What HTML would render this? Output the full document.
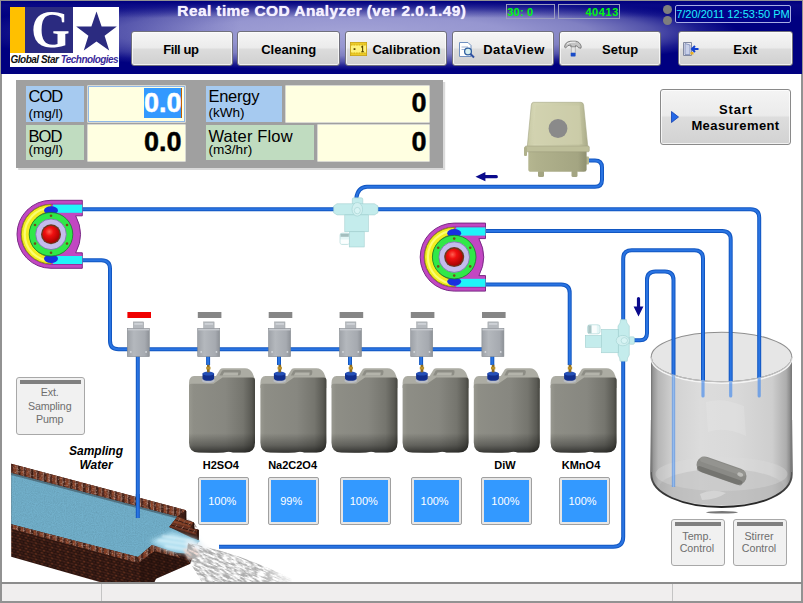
<!DOCTYPE html>
<html><head><meta charset="utf-8">
<style>
html,body{margin:0;padding:0;}
body{width:803px;height:603px;overflow:hidden;background:#fff;position:relative;font-family:"Liberation Sans",sans-serif;}
.abs{position:absolute;}
#frame{left:0;top:0;width:803px;height:603px;background:#929292;}
#client{left:2px;top:1px;width:799px;height:600px;background:#fff;overflow:hidden;}
#hdr{left:1px;top:1px;width:801px;height:73px;background:linear-gradient(to bottom,#00007e 0px,rgba(10,10,134,0.85) 4px,rgba(20,20,140,0) 17px),linear-gradient(to right,rgba(0,0,128,0.5) 0px,rgba(0,0,128,0.32) 125px,rgba(0,0,128,0) 240px),radial-gradient(ellipse 385px 38px at 352px 31px,#a2a2d6 0%,#9696d0 40%,#8080c2 62%,#5252aa 78%,#1c1c90 90%,#000080 100%);}
.hb{position:absolute;top:31.2px;height:35.2px;box-sizing:border-box;border:1px solid #70707c;border-radius:3px;background:linear-gradient(#f6f6f6 0%,#ebebeb 48%,#dcdcdc 52%,#d0d0d0 100%);font-weight:bold;font-size:13px;color:#000;text-align:center;line-height:35.4px;box-shadow:inset 0 0 0 1px rgba(255,255,255,.7);}
.lbl{position:absolute;box-sizing:border-box;color:#000;white-space:nowrap;}
.lbl span{position:absolute;left:2.4px;line-height:16px;}
.lbl .a{font-size:16.5px;}
.lbl .b{font-size:13.6px;}
.val{-webkit-text-stroke:0.45px currentColor;}
.inp{position:absolute;background:#ffffe1;box-shadow:0 0 0 0.6px #fffff4;font-weight:bold;font-size:27px;text-align:right;box-sizing:border-box;color:#000;}
.gbtn{position:absolute;box-sizing:border-box;border:1px solid #a8a8a8;border-radius:3px;background:#f1f1f1;color:#6e6e6e;font-size:10.7px;text-align:center;}
.gbtn i{position:absolute;left:3px;right:3px;top:2px;height:4px;background:#808080;}
.lvl{position:absolute;top:477px;width:51px;height:48px;box-sizing:border-box;border:1px solid #a0a0a0;border-radius:2px;background:#e6e6e6;}
.lvl b{position:absolute;left:2px;top:2px;right:2px;bottom:2px;background:#3399ff;color:#fff;font-weight:normal;font-size:11px;text-align:center;line-height:43px;text-indent:-3px;}
.chem{position:absolute;top:458.7px;font-weight:bold;font-size:11px;color:#000;text-align:center;width:80px;}
</style></head><body>
<div id="frame" class="abs"></div>
<div id="client" class="abs"></div>
<svg class="abs" style="left:0;top:0;" width="803" height="603" viewBox="0 0 803 603">
<defs>
<linearGradient id="jugF" x1="0" y1="0" x2="1" y2="0"><stop offset="0" stop-color="#98988f"/><stop offset="0.07" stop-color="#8e8e86"/><stop offset="0.55" stop-color="#878780"/><stop offset="0.82" stop-color="#75756e"/><stop offset="0.95" stop-color="#5a5a54"/><stop offset="1" stop-color="#45453f"/></linearGradient>
<linearGradient id="jugB" x1="0" y1="0" x2="0" y2="1"><stop offset="0" stop-color="#000" stop-opacity="0"/><stop offset="0.74" stop-color="#000" stop-opacity="0"/><stop offset="0.9" stop-color="#000" stop-opacity="0.3"/><stop offset="1" stop-color="#000" stop-opacity="0.62"/></linearGradient>
<linearGradient id="vlv" x1="0" y1="0" x2="1" y2="0"><stop offset="0" stop-color="#9ea2a8"/><stop offset="0.3" stop-color="#b4b8bd"/><stop offset="0.8" stop-color="#a6aab0"/><stop offset="1" stop-color="#8d9197"/></linearGradient>
<linearGradient id="airT" x1="0" y1="0" x2="1" y2="0"><stop offset="0" stop-color="#c8c9a4"/><stop offset="0.12" stop-color="#d4d5b3"/><stop offset="0.85" stop-color="#c6c7a3"/><stop offset="1" stop-color="#a9aa88"/></linearGradient>
<linearGradient id="airB" x1="0" y1="0" x2="1" y2="0"><stop offset="0" stop-color="#b5b690"/><stop offset="0.15" stop-color="#b0b18c"/><stop offset="0.85" stop-color="#a4a582"/><stop offset="1" stop-color="#8f9070"/></linearGradient>
<radialGradient id="redball" cx="0.4" cy="0.35" r="0.7"><stop offset="0" stop-color="#ff6050"/><stop offset="0.35" stop-color="#f01010"/><stop offset="1" stop-color="#a00000"/></radialGradient>
<linearGradient id="bk" x1="0" y1="0" x2="1" y2="0"><stop offset="0" stop-color="#8a8a8a"/><stop offset="0.05" stop-color="#b6b6b6"/><stop offset="0.16" stop-color="#d2d2d2"/><stop offset="0.35" stop-color="#dcdcdc"/><stop offset="0.6" stop-color="#d9d9d9"/><stop offset="0.86" stop-color="#cecece"/><stop offset="0.96" stop-color="#adadad"/><stop offset="1" stop-color="#7c7c7c"/></linearGradient>

<pattern id="brick" width="8" height="5.4" patternUnits="userSpaceOnUse" patternTransform="matrix(1,0.27,0,1,0,0)">
 <rect width="8" height="5.4" fill="#1e0f0b"/>
 <rect x="0.4" y="0.6" width="3.2" height="1.8" fill="#56281b"/><rect x="4.4" y="0.6" width="3.1" height="1.8" fill="#3f1d17"/>
 <rect x="-1.6" y="3.3" width="3.2" height="1.8" fill="#472119"/><rect x="2.4" y="3.3" width="3.2" height="1.8" fill="#5e2c1d"/><rect x="6.4" y="3.3" width="3.2" height="1.8" fill="#472119"/>
</pattern>
<pattern id="brickTop" width="13" height="12" patternUnits="userSpaceOnUse" patternTransform="matrix(1,0.27,0,1,0,0)">
 <rect width="13" height="12" fill="#6a2c1a"/>
 <rect x="0.5" y="0" width="3" height="12" fill="#8c4226"/><rect x="3.9" y="0" width="0.9" height="12" fill="#c09888"/><rect x="5" y="0" width="2.4" height="12" fill="#3a1a11"/><rect x="7.8" y="0" width="2.2" height="12" fill="#94482a"/><rect x="10.4" y="0" width="0.7" height="12" fill="#b08878"/><rect x="11.3" y="0" width="1.5" height="12" fill="#42201a"/>
</pattern>
<filter id="noise" x="0" y="0" width="100%" height="100%"><feTurbulence type="fractalNoise" baseFrequency="0.9" numOctaves="2" seed="3" result="n"/><feColorMatrix type="matrix" values="0 0 0 0 0  0 0 0 0 0  0 0 0 0 0  0.5 0.5 0 0 -0.35"/><feComposite in2="SourceGraphic" operator="in"/></filter>
<filter id="foam" x="-5%" y="-5%" width="110%" height="110%"><feTurbulence type="fractalNoise" baseFrequency="0.13 0.55" numOctaves="3" seed="8" result="n"/><feColorMatrix in="n" type="matrix" values="0 0 0 0 0.4  0 0 0 0 0.4  0 0 0 0 0.4  3 3 0 0 -2.5" result="c"/><feComposite in="c" in2="SourceGraphic" operator="in"/></filter>
<linearGradient id="foamFade" x1="0" y1="0" x2="1" y2="0"><stop offset="0" stop-color="#fff" stop-opacity="1"/><stop offset="0.7" stop-color="#fff" stop-opacity="0.95"/><stop offset="1" stop-color="#fff" stop-opacity="0.15"/></linearGradient>
<mask id="foamMask"><path d="M188,543 Q240,553 292,579 V584 H203 L186,556 Z" fill="url(#foamFade)"/></mask>
<filter id="mott" x="0" y="0" width="100%" height="100%"><feTurbulence type="fractalNoise" baseFrequency="0.45 0.5" numOctaves="2" seed="11"/><feColorMatrix type="matrix" values="0 0 0 0 0.08  0 0 0 0 0.03  0 0 0 0 0.02  1.6 1.6 0 0 -1.25"/><feComposite in2="SourceGraphic" operator="in"/></filter>
<filter id="mottL" x="0" y="0" width="100%" height="100%"><feTurbulence type="fractalNoise" baseFrequency="0.6 0.6" numOctaves="1" seed="5"/><feColorMatrix type="matrix" values="0 0 0 0 0.95  0 0 0 0 0.8  0 0 0 0 0.75  2.5 2.5 0 0 -2.45"/><feComposite in2="SourceGraphic" operator="in"/></filter>
<filter id="blur2"><feGaussianBlur stdDeviation="2"/></filter>
<filter id="blur1"><feGaussianBlur stdDeviation="1"/></filter>
<linearGradient id="bkEdge" gradientUnits="userSpaceOnUse" x1="0" y1="420" x2="0" y2="507"><stop offset="0" stop-color="#7a7a7a" stop-opacity="0.2"/><stop offset="0.55" stop-color="#5a5a5a" stop-opacity="0.9"/><stop offset="0.8" stop-color="#3a3a3a"/><stop offset="1" stop-color="#242424"/></linearGradient>
<symbol id="pump" overflow="visible">
  <path d="M65.3,0.3 H34 A34,34 0 0 0 34,68.3 H65.3 V52.8 H58.7 Q68.4,34.3 58.7,15.8 H65.3 Z" fill="#c247c2" stroke="#7a2a86" stroke-width="1"/>
  <path d="M65,4.2 H34 A30,30 0 0 0 34,64.4 H65" fill="none" stroke="#8a2a96" stroke-width="0.9"/>
  <path d="M34,4.5 A29.7,29.7 0 0 0 34,63.9 L34,57 A22.8,22.8 0 0 1 34,11.5 Z" fill="#f2ee20" stroke="#8a8a10" stroke-width="0.9"/>
  <path d="M34,8 A26.3,26.3 0 0 0 34,60.6" fill="none" stroke="#fcfc70" stroke-width="2.2"/>
  <rect x="36" y="4.6" width="29.3" height="8.2" fill="#20f4f8"/>
  <rect x="36" y="56" width="29.3" height="8" fill="#20f4f8"/>
  <ellipse cx="34" cy="10.5" rx="7" ry="4.2" fill="#1830e0"/>
  <ellipse cx="34" cy="58.8" rx="7" ry="4.2" fill="#1830e0"/>
  <circle cx="34" cy="34.3" r="21.8" fill="#30e848" stroke="#187828" stroke-width="0.8"/>
  <circle cx="34" cy="34.3" r="15.3" fill="#c4bcec" stroke="#7870a8" stroke-width="0.8"/>
  <circle cx="34" cy="34.3" r="10" fill="#6a3a20"/>
  <circle cx="34" cy="34.3" r="8.6" fill="url(#redball)"/>
  <g fill="#705018"><circle cx="34" cy="15.8" r="1.3"/><circle cx="34" cy="52.8" r="1.3"/><circle cx="18" cy="25" r="1.3"/><circle cx="50" cy="25" r="1.3"/><circle cx="18" cy="43.6" r="1.3"/><circle cx="50" cy="43.6" r="1.3"/></g>
</symbol>
<symbol id="valve" overflow="visible">
  <rect x="6" y="-6.5" width="10.4" height="7" fill="#b6babf" stroke="#9a9ea2" stroke-width="0.5"/>
  <rect x="7" y="-5.2" width="8.4" height="1.5" fill="#d4d8dc"/>
  <rect x="0" y="0" width="22" height="28.2" fill="url(#vlv)" stroke="#858a90" stroke-width="0.6"/>
  <rect x="0.5" y="0.4" width="21.3" height="1.6" fill="#c5c9ce"/>
  <circle cx="3.5" cy="23.5" r="0.9" fill="#d8dce0"/><circle cx="18.8" cy="23.5" r="0.9" fill="#d8dce0"/>
</symbol>
<symbol id="jug" overflow="visible">
  <!-- top face -->
  <path d="M0,15 Q0,8.3 5,8 L13,8 L27,8 L31,1.5 Q32,0.3 34,0.3 H56 Q61,0.5 63.5,5 L66,11.5 V20 H0 Z" fill="#acaca3"/>
  <!-- handle slot -->
  <path d="M30.5,7.5 L33,2.8 Q33.6,2 35,2 H50.5 Q52.3,2.2 52,4 L51.5,6.5 Q51,7.5 49.5,7.5 Z" fill="#8d8d85"/>
  <path d="M33.5,7.5 L35,4.6 H49.3 L48.8,7.5 Z" fill="#b4b4ab"/>
  <!-- front face -->
  <path d="M0,17.8 Q0,15.8 2,15.8 H24.5 L33.5,9.6 H63.5 Q66,9.8 66,12.5 V74.5 Q66,84.6 56,84.6 H44 Q40,83.2 36,84.3 Q33,84.9 10,84.6 Q0,84.6 0,74.5 Z" fill="url(#jugF)"/>
  <path d="M0,17.8 Q0,15.8 2,15.8 H24.5 L33.5,9.6 H63.5 Q66,9.8 66,12.5 V74.5 Q66,84.6 56,84.6 H44 Q40,83.2 36,84.3 Q33,84.9 10,84.6 Q0,84.6 0,74.5 Z" fill="url(#jugB)"/>
  <!-- neck / cap -->
  <ellipse cx="19.3" cy="12.6" rx="6.4" ry="2.3" fill="#b9bdc6"/>
  <path d="M13.5,5.6 V10.6 A5.8,2.2 0 0 0 25.1,10.6 V5.6 Z" fill="#122f8c"/>
  <ellipse cx="19.3" cy="5.6" rx="5.8" ry="2" fill="#2450b8"/>
  <rect x="18" y="-3.2" width="2.7" height="7.5" fill="#8a6a20"/>
  <rect x="17.2" y="-1.2" width="4.3" height="2.6" fill="#b8902c"/>
</symbol>
</defs>
<g>
<ellipse cx="722" cy="512.3" rx="16" ry="1.3" fill="#555" opacity="0.8"/>
<path d="M651.2,357 V474 C651.2,494 683,507 721.5,507 C760,507 791.8,494 791.8,474 V357 Z" fill="url(#bk)"/>
<ellipse cx="721.5" cy="487" rx="62" ry="18" fill="#a9a9a9" opacity="0.5"/>
<ellipse cx="721.5" cy="474" rx="66" ry="17" fill="#dcdcdc" opacity="0.35"/>
<path d="M651.2,420 V474 C651.2,494 683,507 721.5,507 C760,507 791.8,494 791.8,474 V420" fill="none" stroke="url(#bkEdge)" stroke-width="1.9"/>
<path d="M651.6,357 V472 M791.4,357 V472" stroke="#7a7a7a" stroke-width="1.2" fill="none"/>
<ellipse cx="721.5" cy="357" rx="70.3" ry="24.8" fill="#e6e6e6" stroke="#8e8e8e" stroke-width="1.1"/>
<path d="M651.2,357 A70.3,24.8 0 0 0 791.8,357" fill="none" stroke="#f4f4f4" stroke-width="1.6" transform="translate(0,1.3)"/>
<path d="M651.2,357 A70.3,24.8 0 0 0 791.8,357" fill="none" stroke="#a2a2a2" stroke-width="1"/>
<path d="M706,402 Q722,397 744,406 L746,436 Q724,426 708,432 Z" fill="#fff" opacity="0.13"/>
<path d="M700,494 Q712,488 726,493 Q716,500 702,500 Z" fill="#fff" opacity="0.3"/>
<g transform="translate(721.5,470.6) rotate(19.5)"><rect x="-26" y="-8.2" width="52" height="16.4" rx="8.2" fill="#8a8a86"/><rect x="-24" y="-7.2" width="48" height="5.5" rx="2.7" fill="#999994" opacity="0.7"/><ellipse cx="19" cy="-2.5" rx="3" ry="2" fill="#c8c8c4" opacity="0.8"/><rect x="-24" y="3" width="48" height="5" rx="2.5" fill="#5e5e5a" opacity="0.5"/></g>
</g>

<!-- PIPES -->
<g fill="none" stroke-linecap="butt">
<path d="M82,209.3 H750.7 Q759.2,209.3 759.2,217.8 V378 M587,160.6 H595.0 Q602,160.6 602,167.6 V179.8 Q602,186.8 595.0,186.8 H367 Q357.8,187.3 356.3,198 M82,260.3 H101.5 Q110,260.3 110,268.8 V340.8 Q110,349.3 118.5,349.3 H483 M137.8,355 V518 M485,231 H722.2 Q730.7,231 730.7,239.5 V381.8 M485,284.4 H561.2 Q569.7,284.4 569.7,292.9 V365 M219,546.8 H613.2 Q623.2,546.8 623.2,536.8 V258.7 Q623.2,250.2 631.7,250.2 H694.5 Q703,250.2 703,258.7 V381 M633,340.3 H640.0 Q647,340.3 647,333.3 V280.1 Q647,271.6 655.5,271.6 H665.0 Q673.5,271.6 673.5,280.1 V375.3 M208.1,355 V365 M279.0,355 V365 M350.0,355 V365 M421.1,355 V365 M492.3,355 V365" stroke="#1257c2" stroke-width="4"/>
<path d="M82,209.3 H750.7 Q759.2,209.3 759.2,217.8 V378 M587,160.6 H595.0 Q602,160.6 602,167.6 V179.8 Q602,186.8 595.0,186.8 H367 Q357.8,187.3 356.3,198 M82,260.3 H101.5 Q110,260.3 110,268.8 V340.8 Q110,349.3 118.5,349.3 H483 M137.8,355 V518 M485,231 H722.2 Q730.7,231 730.7,239.5 V381.8 M485,284.4 H561.2 Q569.7,284.4 569.7,292.9 V365 M219,546.8 H613.2 Q623.2,546.8 623.2,536.8 V258.7 Q623.2,250.2 631.7,250.2 H694.5 Q703,250.2 703,258.7 V381 M633,340.3 H640.0 Q647,340.3 647,333.3 V280.1 Q647,271.6 655.5,271.6 H665.0 Q673.5,271.6 673.5,280.1 V375.3 M208.1,355 V365 M279.0,355 V365 M350.0,355 V365 M421.1,355 V365 M492.3,355 V365" stroke="#2a74e2" stroke-width="2"/>
</g>
<g fill="none" stroke-linecap="round" opacity="0.62">
<path d="M673.5,375.3 V487" stroke="#4a8ae6" stroke-width="3.4" stroke-linecap="butt"/>
<path d="M703,381 V396 M730.7,381.8 V396 M759.2,378 V396" stroke="#3c86ee" stroke-width="3.2"/>
</g>
<path d="M673.5,375.3 V487" stroke="#9cc4f4" stroke-width="1.3" opacity="0.7"/>
<path d="M651.2,357 A70.3,24.8 0 0 0 791.8,357" fill="none" stroke="#d8d8d8" stroke-width="1.2" opacity="0.55"/>

<use href="#pump" x="17" y="200"/>
<use href="#pump" x="420.2" y="222.8"/>
<rect x="127.4" y="312" width="23.6" height="6" fill="#f00000"/>
<use href="#valve" x="127.3" y="328.4"/>
<rect x="197.8" y="312" width="23.6" height="6" fill="#868686"/>
<use href="#valve" x="197.7" y="328.4"/>
<rect x="268.7" y="312" width="23.6" height="6" fill="#868686"/>
<use href="#valve" x="268.6" y="328.4"/>
<rect x="339.6" y="312" width="23.6" height="6" fill="#868686"/>
<use href="#valve" x="339.5" y="328.4"/>
<rect x="410.8" y="312" width="23.6" height="6" fill="#868686"/>
<use href="#valve" x="410.7" y="328.4"/>
<rect x="482.0" y="312" width="23.6" height="6" fill="#868686"/>
<use href="#valve" x="481.9" y="328.4"/>
<use href="#jug" x="189.0" y="368"/>
<use href="#jug" x="260.4" y="368"/>
<use href="#jug" x="331.5" y="368"/>
<use href="#jug" x="402.6" y="368"/>
<use href="#jug" x="473.8" y="368"/>
<use href="#jug" x="550.6" y="368"/>
<g>
<rect x="538" y="170.5" width="6" height="6.5" rx="1.5" fill="#a4a582"/><rect x="571.5" y="170.5" width="6" height="6.5" rx="1.5" fill="#a4a582"/>
<rect x="585" y="156.5" width="4" height="8" rx="1" fill="#b5b690"/>
<path d="M528.3,151 H586.6 V169.5 Q586.6,171.8 584,171.8 H531 Q528.3,171.8 528.3,169.5 Z" fill="url(#airB)"/>
<path d="M533.5,102.3 H581 Q583.3,102.5 583.6,105 L587.8,146.5 H527.3 L531.3,105 Q531.5,102.5 533.5,102.3 Z" fill="url(#airT)" stroke="#a5a684" stroke-width="0.6"/>
<path d="M536,105.5 H579.5 L582.5,144 H532.5 Z" fill="#cfd0ad" opacity="0.55"/>
<rect x="525" y="146" width="64.3" height="5.8" rx="1.2" fill="#bebf9a" stroke="#9c9d7c" stroke-width="0.5"/>
<rect x="524" y="147" width="3" height="9" rx="1" fill="#b0b18c"/>
<circle cx="558" cy="128.5" r="9.4" fill="#8a8a8a"/>
</g>
<g fill="#c4ecec" stroke="#9acaca" stroke-width="0.5">
<rect x="352.3" y="197.8" width="10.5" height="7" rx="1.5"/>
<path d="M337,203.7 H374.5 L378,206 V212.7 L374.5,214.9 H337 L333.6,212.7 V206 Z"/>
<rect x="344.8" y="214.9" width="23.6" height="16.9"/>
<rect x="349.2" y="231.8" width="15" height="15.2"/>
<rect x="340" y="233.2" width="9.4" height="11.2" rx="2" fill="#e4f6f6"/>
<ellipse cx="357.3" cy="209.3" rx="5.3" ry="6.8" fill="#d2f0f0"/>
<ellipse cx="357.3" cy="210.6" rx="3" ry="3.2" fill="#d8f4f4"/>
</g>
<rect x="340.6" y="239.5" width="8.2" height="4.3" fill="#fff" opacity="0.85"/>
<rect x="340.6" y="233.8" width="8.2" height="3" fill="#7a9a9a" opacity="0.6"/>
<g fill="#c4ecec" stroke="#9acaca" stroke-width="0.5">
<path d="M620.6,319.6 H626.3 L627,323 L629.3,326 V355 L627.6,358 L627.2,361.2 H620 L619.6,358 L618,355 V326 L620,323 Z"/>
<rect x="601.6" y="329.4" width="16.6" height="23.4"/>
<rect x="585.3" y="335.4" width="16.4" height="11.9"/>
<rect x="587.5" y="324.8" width="12.6" height="9" rx="2.2" fill="#e4f6f6"/>
<rect x="629.2" y="336.8" width="5.2" height="7.5" rx="1.2"/>
<ellipse cx="622.8" cy="340.6" rx="6.6" ry="5.2" fill="#d2f0f0"/>
<ellipse cx="624.3" cy="340.6" rx="3.2" ry="3" fill="#d8f4f4"/>
</g>
<rect x="592" y="325.4" width="4.8" height="7.8" fill="#fff" opacity="0.8"/>
<rect x="588.2" y="325.4" width="3.2" height="7.8" fill="#7a9a9a" opacity="0.55"/>
<path d="M496.3,175.1 H485.4 V172 L475.5,176.7 L485.4,181.3 V178.3 H496.3 Q497.9,178.3 497.9,176.7 Q497.9,175.1 496.3,175.1 Z" fill="#0a0a8c"/>
<path d="M636.9,298.6 V306.4 H633.6 L638.5,316.4 L643.4,306.4 H640.1 V298.6 Q640.1,297 638.5,297 Q636.9,297 636.9,298.6 Z" fill="#0a0a8c"/>

<g>
<polygon points="11.2,463.8 186,510.2 186,520 194,522.6 194,528.6 198.5,529.7 198.5,541 196,550 190.3,563.8 156,578.7 154.5,582 99.7,582 11.2,556.7" fill="url(#brick)"/>
<polygon points="139.4,562.3 154.4,551 180,557.8 190.3,563.8 156,578.7 154.5,582 140,582" fill="#1a0c08" opacity="0.28"/>
<polygon points="11.2,472.7 177.5,516.5 169.3,527 192,536 200,541 186,553.5 175.3,552.5 152,545 138,557 11.2,524.3" fill="#72b0cb"/>
<polygon points="11.2,472.7 177.5,516.5 169.3,527 192,536 200,541 186,553.5 175.3,552.5 152,545 138,557 11.2,524.3" fill="#3a6e8c" filter="url(#noise)" opacity="0.22"/>
<polygon points="11.2,463.8 186,510.2 177.5,516.5 11.2,472.7" fill="url(#brickTop)"/>
<polygon points="177.5,516.5 186,510.2 186,519.7 194,522.6 194,528.6 198.5,529.7 198.5,540 192,538 169.3,527" fill="#3a1a12"/>
<polygon points="172.5,522.8 177.5,516.5 185.8,519.9 193.6,522.8 190,527.4" fill="#8c4428"/>
<polygon points="169.3,527 172.5,522.8 190,527.4 193.8,528.8 198.2,530 195.5,534.6" fill="#743420"/>
<path d="M175,519.8 L191.5,525.2 M171,525 L196.6,532.2" stroke="#2a120c" stroke-width="0.9"/>
<path d="M180,518 L178.2,521 M185.5,520.3 L183.6,523 M190.2,522.4 L188.2,525 M177,524.6 L175.4,527 M183.4,526.4 L181.6,529 M189.6,528 L188,530.8 M195,529.8 L193.2,532.6" stroke="#c8a090" stroke-width="0.7" opacity="0.8"/>
<polygon points="11.2,524.3 138,557 136.3,562.6 11.2,528.8" fill="url(#brickTop)"/>
<polygon points="138,557 152,545 154.4,551 139.4,562.3" fill="url(#brickTop)"/>
<polygon points="152,545 175.3,552.5 180,557.8 154.4,551" fill="url(#brickTop)"/>
<g>
<polygon points="11.2,463.8 186,510.2 177.5,516.5 11.2,472.7" fill="#000" filter="url(#mott)" opacity="0.6"/>
<polygon points="11.2,524.3 138,557 152,545 175.3,552.5 180,557.8 154.4,551 139.4,562.3 136.3,562.6 11.2,528.8" fill="#000" filter="url(#mott)" opacity="0.6"/>
<polygon points="177.5,516.5 186,510.2 186,518 194,522.6 198.5,529.7 198.5,538 169.3,527" fill="#000" filter="url(#mott)" opacity="0.6"/>
<polygon points="11.2,463.8 186,510.2 177.5,516.5 11.2,472.7" fill="#fff" filter="url(#mottL)" opacity="0.32"/>
<polygon points="11.2,524.3 138,557 152,545 175.3,552.5 180,557.8 154.4,551 139.4,562.3 136.3,562.6 11.2,528.8" fill="#fff" filter="url(#mottL)" opacity="0.32"/>
</g>
<path d="M185.6,511 V520 M193.6,523 V529 M198,530 V540" stroke="#2a120c" stroke-width="1.6"/>
<polygon points="11.2,472.7 177.5,516.5 176,518.3 11.2,475" fill="#1a0c08" opacity="0.35"/>
<path d="M137.8,494 V518" stroke="#1257c2" stroke-width="4"/><path d="M137.8,494 V518" stroke="#2a74e2" stroke-width="2"/>
<!-- outflow -->
<g filter="url(#blur2)"><polygon points="150,541 172,532 196,539 203,546 190,554 168,551" fill="#b4e2f2" opacity="0.95"/><polygon points="186,540 204,545 210,550 190,556" fill="#f2f4f8" opacity="0.95"/></g>
<g filter="url(#blur1)"><path d="M158,540 L192,545 M162,536 L194,541 M165,546 L190,550" stroke="#e8f8fc" stroke-width="1.4" opacity="0.8"/><polygon points="183,549 196,548 200,556 188,560" fill="#f0d8d0" opacity="0.8"/></g>
<path d="M200,546.8 H221" stroke="#8fb8f0" stroke-width="3.4" opacity="0.8" filter="url(#blur1)"/>
<g mask="url(#foamMask)"><g transform="rotate(24 188 550)"><rect x="170" y="500" width="140" height="90" fill="#808080" filter="url(#foam)"/></g></g>
</g>

</svg>
<div id="hdr" class="abs"></div>

<!-- logo -->
<div class="abs" style="left:10px;top:7px;width:109px;height:60px;background:#fff;"></div>
<div class="abs" style="left:10px;top:7px;width:15px;height:46px;background:#ffc000;"></div>
<div class="abs" style="left:25px;top:7px;width:48px;height:45.5px;background:#2b2b80;"></div>
<div id="logoG" class="abs" style="left:25px;top:7px;width:48px;height:46px;font-family:'Liberation Serif',serif;font-weight:bold;font-size:52.5px;line-height:44.5px;color:#fff;text-align:center;text-indent:3px;transform:scaleX(0.95);transform-origin:26px 0;">G</div>
<svg class="abs" style="left:73px;top:7px;" width="46" height="46" viewBox="0 0 46 46"><polygon id="star" fill="#2b2b80" points="23.5,4.5 28.6,19.4 43.8,19.4 31.6,28.7 36.2,43.6 23.5,34.6 10.8,43.6 15.4,28.7 3.2,19.4 18.4,19.4"/></svg>
<div id="logoT" class="abs" style="left:10.5px;top:53px;width:109px;height:14px;font-size:10px;font-style:italic;font-weight:bold;line-height:14px;white-space:nowrap;letter-spacing:-0.5px;color:#111;">Global Star <span id="logoT2" style="color:#3a2a9a;letter-spacing:-0.55px;">Technologies</span></div>
<!-- title -->
<div id="title" class="abs" style="left:177.3px;top:1.2px;font-weight:bold;font-size:15.5px;letter-spacing:0.4px;line-height:20px;color:#f4f0ff;white-space:nowrap;text-shadow:0 0 1px #fff;">Real time COD Analyzer (ver 2.0.1.49)</div>
<!-- small boxes -->
<div class="abs" style="left:505.8px;top:3.8px;width:49px;height:15px;box-sizing:border-box;border:1px solid #9a9cc0;"></div>
<div id="t30" class="abs" style="left:507.3px;top:5.6px;font-weight:bold;font-size:11px;letter-spacing:0.2px;line-height:13px;color:#00fa10;">30: 0</div>
<div class="abs" style="left:557.8px;top:3.8px;width:62px;height:15px;box-sizing:border-box;border:1px solid #9a9cc0;"></div>
<div id="t40" class="abs" style="left:558px;top:5px;width:61px;text-align:right;font-weight:bold;font-size:11px;letter-spacing:0.6px;line-height:13px;color:#00fa10;margin-top:0.6px;">40413</div>
<div class="abs" style="left:663.3px;top:5.2px;width:9.2px;height:9.2px;border-radius:50%;background:#7e7e7e;"></div>
<div class="abs" style="left:663.3px;top:15.8px;width:9.2px;height:9.2px;border-radius:50%;background:#7e7e7e;"></div>
<div class="abs" style="left:675px;top:5px;width:116px;height:17.5px;box-sizing:border-box;border:1px solid #a8aee4;border-radius:2px;background:#02028a;"></div>
<div id="tdate" class="abs" style="left:676.2px;top:6px;font-size:11px;line-height:16px;color:#20f0ff;white-space:nowrap;">7/20/2011 12:53:50 PM</div>
<!-- header buttons -->
<div class="hb" style="left:130.7px;width:102.3px;"><span style="letter-spacing:-0.45px;margin-left:-2px">Fill up</span></div>
<div class="hb" style="left:237.4px;width:102.6px;">Cleaning</div>
<div class="hb" style="left:344.6px;width:102.2px;"><span style="margin-left:21.5px">Calibration</span></div>
<div class="hb" style="left:451.8px;width:102.4px;"><span style="margin-left:22px;letter-spacing:0.5px">DataView</span></div>
<div class="hb" style="left:559px;width:102.2px;"><span style="margin-left:20px">Setup</span></div>
<div class="hb" style="left:677.6px;width:115.2px;"><span style="margin-left:20px">Exit</span></div>
<!-- icons -->
<svg class="abs" style="left:350px;top:42px;" width="17" height="14" viewBox="0 0 17 14"><rect x="0.4" y="0.4" width="16.2" height="13.2" fill="#eccc28" stroke="#c8a010" stroke-width="0.8"/><rect x="1" y="3.3" width="15" height="7.4" fill="#fff27a"/><path d="M1,2.9 H16 M1,11.1 H16" stroke="#d8b018" stroke-width="1" stroke-dasharray="1.4 1.2"/><rect x="3.6" y="6.2" width="1.8" height="1.8" fill="#5a4800"/><path d="M11.2,5.2 L12.6,4.2 V9.8 M11.2,9.8 H14" stroke="#5a4800" stroke-width="1.1" fill="none"/></svg>
<svg class="abs" style="left:458px;top:41px;" width="18" height="18" viewBox="0 0 18 18"><path d="M1.5,1.5 H10 L13,4.5 V15.5 H1.5 Z" fill="#fff" stroke="#7090c0"/><path d="M3.5,6 H10 M3.5,8.5 H8" stroke="#a0b0d0"/><circle cx="10" cy="10.5" r="3.4" fill="#d8f0f0" stroke="#3060a0" stroke-width="1.3"/><path d="M12.5,13 L16,16.5" stroke="#3050a0" stroke-width="2"/></svg>
<svg class="abs" style="left:563px;top:39px;" width="20" height="20" viewBox="0 0 20 20"><path d="M1.6,8.2 Q1.8,3 7.5,2.2 H12.5 Q16.5,2.4 18.2,7.2 L18,9.2 L15.5,8.8 Q14.5,6.6 12.6,6.6 V8 H7.9 V6 Q4.5,5.8 2.6,9 Z" fill="#c4c4c4" stroke="#6a6a6a" stroke-width="0.8"/><path d="M4,5 Q6,3.4 9,3.2 H12.5" stroke="#f2f2f2" stroke-width="1" fill="none"/><rect x="8.2" y="8" width="4" height="6.2" fill="#e4e4e4" stroke="#9a9a9a" stroke-width="0.6"/><rect x="7.7" y="13.8" width="4.9" height="3.6" rx="0.6" fill="#1a4cc8"/></svg>
<svg class="abs" style="left:681.6px;top:40.5px;" width="18" height="16" viewBox="0 0 18 16"><path d="M1.5,1.5 H9.5 V14.5 H1.5 Z" fill="#e8e8f0" stroke="#8088a0"/><path d="M3,2.5 L8,4 V13.5 L3,13.5 Z" fill="#c8d0e8" stroke="#7080b0" stroke-width="0.7"/><path d="M16.5,8 H10.5 M13,5 L10,8 L13,11" fill="none" stroke="#1040d0" stroke-width="2"/><rect x="8.5" y="11" width="3" height="2.5" fill="#e8b020"/></svg>


<div class="abs" style="left:16px;top:80.2px;width:427px;height:87.6px;background:#a0a0a0;box-shadow:2.2px 2px 0 #dadada;"></div>
<div class="lbl" style="left:26px;top:85.7px;width:58.2px;height:36.1px;background:#a6caf0;"><span class="a" style="top:2.68px;letter-spacing:-0.9px;">COD</span><span class="b" style="top:19.99px;">(mg/l)</span></div>
<div class="lbl" style="left:26px;top:124.9px;width:58.2px;height:35.3px;background:#c0dcc0;"><span class="a" style="top:2.78px;letter-spacing:-0.9px;">BOD</span><span class="b" style="top:17.29px;">(mg/l)</span></div>
<div class="lbl" style="left:206px;top:85.7px;width:76.3px;height:36.1px;background:#a6caf0;"><span class="a" style="top:2.58px;letter-spacing:-0.25px;">Energy</span><span class="b" style="top:19.29px;">(kWh)</span></div>
<div class="lbl" style="left:206px;top:124.9px;width:108.3px;height:35.3px;background:#c0dcc0;"><span class="a" style="top:2.88px;letter-spacing:0.15px;">Water Flow</span><span class="b" style="top:17.29px;">(m3/hr)</span></div>
<div class="inp" style="left:87.5px;top:86px;width:97.5px;height:36px;border:1px solid #8fb8e8;"></div>
<div class="abs" style="left:144px;top:88px;width:37px;height:30px;background:#3399ff;"></div>
<div class="abs" style="left:181px;top:88px;width:1px;height:30px;background:#c06000;"></div>
<div id="v1" class="abs val" style="left:87.5px;top:86px;width:94px;height:36px;font-weight:bold;font-size:27px;line-height:34px;text-align:right;color:#fff;">0.0</div>
<div class="inp" style="left:87.5px;top:125px;width:97.5px;height:36px;"></div>
<div id="v2" class="abs val" style="left:87.5px;top:125px;width:94px;height:35px;font-weight:bold;font-size:27px;line-height:34px;text-align:right;color:#000;">0.0</div>
<div class="inp" style="left:285.5px;top:86px;width:143.8px;height:36px;"></div>
<div id="v3" class="abs val" style="left:285.5px;top:86px;width:141px;height:36px;font-weight:bold;font-size:27px;line-height:34px;text-align:right;color:#000;">0</div>
<div class="inp" style="left:318px;top:125px;width:111.3px;height:36px;"></div>
<div id="v4" class="abs val" style="left:318px;top:125px;width:108.5px;height:35px;font-weight:bold;font-size:27px;line-height:34px;text-align:right;color:#000;">0</div>


<div class="abs" id="startbtn" style="left:660px;top:89px;width:131px;height:56px;box-sizing:border-box;border:1px solid #8a8a8a;border-radius:3px;background:linear-gradient(#f4f4f4 0%,#ebebeb 47%,#dddddd 51%,#d2d2d2 100%);box-shadow:inset 0 0 0 1px rgba(255,255,255,.7);"></div>
<svg class="abs" style="left:671px;top:111px;" width="8" height="12"><polygon points="0.5,0.5 7.5,6 0.5,11.5" fill="#2468e8" stroke="#1040b0" stroke-width="0.8"/></svg>
<div id="startt" class="abs" style="left:680px;top:102px;width:111px;text-align:center;font-weight:bold;font-size:13px;letter-spacing:0.4px;line-height:16px;color:#000;"><span style="letter-spacing:0.85px;margin-left:1px">Start</span><br>Measurement</div>
<div class="gbtn" style="left:16.2px;top:377px;width:69px;height:58px;line-height:13.2px;padding-top:8.3px;padding-right:2px;letter-spacing:-0.12px;"><i></i>Ext.<br>Sampling<br>Pump</div>
<div class="gbtn" style="left:670.8px;top:519px;width:54.2px;height:47px;line-height:12.5px;padding-top:9.7px;padding-right:2px;"><i></i>Temp.<br>Control</div>
<div class="gbtn" style="left:733px;top:519px;width:54px;height:47px;line-height:12.5px;padding-top:9.7px;padding-right:2px;"><i></i>Stirrer<br>Control</div>
<div id="sw" class="abs" style="left:56px;top:444px;width:80px;text-align:center;font-weight:bold;font-style:italic;font-size:12px;line-height:14.4px;color:#000;">Sampling<br>Water</div>
<div class="lvl" style="left:198.3px;"><b>100%</b></div>
<div class="lvl" style="left:268.2px;"><b style="text-indent:-5px">99%</b></div>
<div class="lvl" style="left:339.8px;"><b>100%</b></div>
<div class="lvl" style="left:410.6px;"><b>100%</b></div>
<div class="lvl" style="left:481.4px;"><b>100%</b></div>
<div class="lvl" style="left:558.5px;"><b>100%</b></div>
<div class="chem" style="left:180.8px;">H2SO4</div>
<div class="chem" style="left:252.6px;">Na2C2O4</div>
<div class="chem" style="left:465.0px;">DiW</div>
<div class="chem" style="left:541.0px;">KMnO4</div>

<div class="abs" style="left:1px;top:582px;width:801px;height:1.5px;background:#8c8c8c;"></div>
<div class="abs" style="left:2px;top:583.5px;width:799px;height:17.5px;background:#f0eeee;"></div>
<div class="abs" style="left:101px;top:584px;width:1px;height:17px;background:#c4c4c4;"></div>
<div class="abs" style="left:672px;top:584px;width:1px;height:17px;background:#c4c4c4;"></div>
</body></html>
